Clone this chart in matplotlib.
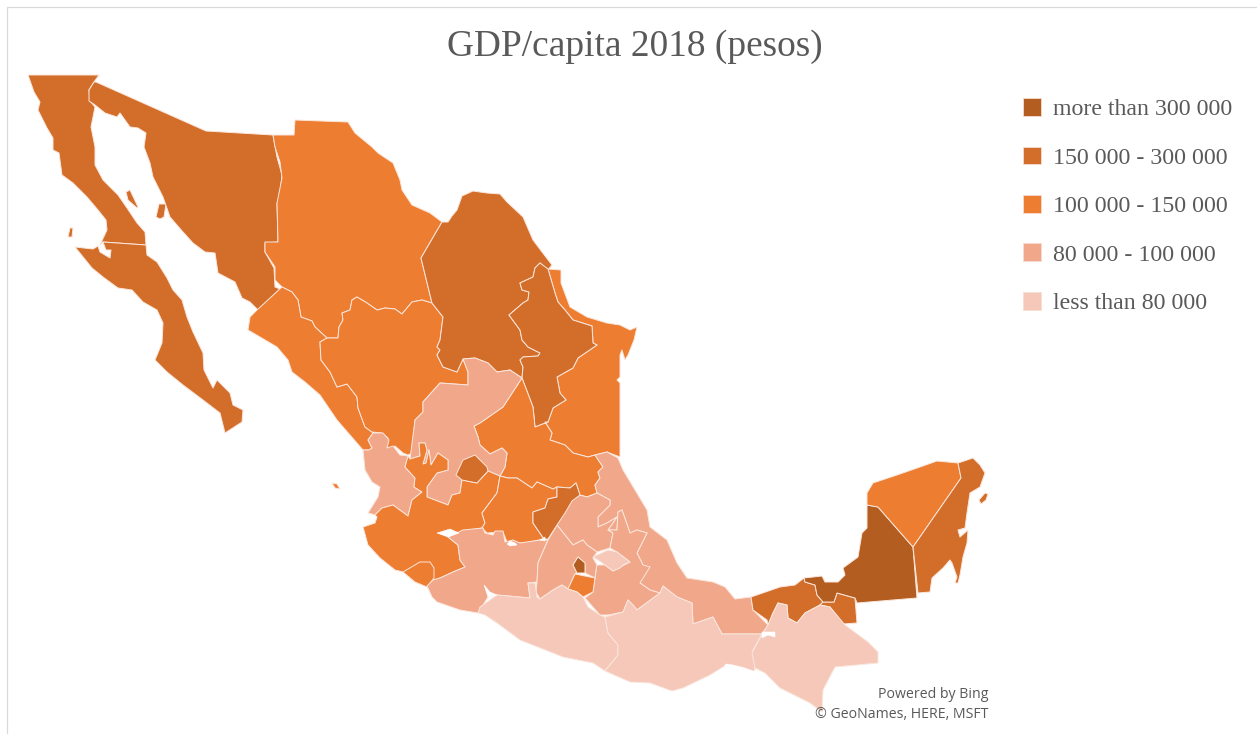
import matplotlib
matplotlib.use("Agg")
import matplotlib.pyplot as plt
from matplotlib.patches import Patch

TITLE = "GDP/capita 2018 (pesos)"
BIN_LABELS = ["more than 300 000", "150 000 - 300 000", "100 000 - 150 000",
              "80 000 - 100 000", "less than 80 000"]
BIN_COLORS = ["#B35D21", "#D36E2A", "#ED7D31", "#F1A78A", "#F5C8BA"]
ATTRIBUTION = ["Powered by Bing", "\u00a9 GeoNames, HERE, MSFT"]

# State outlines in map units (x grows east, y grows south)
baja_california = [(28,75),(99,75),(94,82),(89,90),(90,101),(95,107),(91,127),(95,147),(95,165),(103,180),(118,195),(127,208),(137,223),(145,232),(146,245),(103,242),(100,245),(107,230),(106,220),(98,210),(87,197),(73,183),(62,175),(59,153),(53,150),(53,138),(47,128),(38,110),(40,102),(34,92)]
baja_california_sur = [(103,242),(146,245),(147,255),(157,262),(167,278),(173,290),(182,300),(187,317),(193,332),(203,353),(204,370),(213,388),(217,380),(230,393),(233,405),(243,410),(242,422),(225,433),(220,413),(203,400),(183,385),(167,372),(155,360),(162,343),(163,323),(157,310),(143,302),(132,290),(118,288),(103,277),(92,268),(75,247),(93,249),(98,246),(100,252),(110,258),(111,250),(106,250)]
isla_angel = [(126,192),(130,190),(138,207),(137,208),(128,200)]
isla_tiburon = [(156,217),(159,204),(166,204),(164,217),(160,219)]
isla_cedros = [(68,237),(70,228),(73,228),(72,237)]
sonora = [(96,82),(206,131),(273,135),(277,157),(282,175),(279,203),(277,203),(278,242),(265,243),(265,252),(274,268),(275,287),(280,289),(258,310),(250,302),(242,298),(235,282),(218,273),(215,253),(205,252),(193,243),(183,232),(170,217),(163,197),(153,177),(150,163),(144,147),(146,133),(138,128),(130,127),(120,113),(117,117),(105,113),(95,105),(89,101),(89,90),(94,82)]
chihuahua = [(273,135),(294,135),(295,120),(348,122),(355,133),(372,147),(378,153),(393,163),(400,180),(402,190),(412,205),(430,213),(442,222),(421,258),(432,303),(422,300),(412,302),(402,314),(395,309),(385,308),(377,310),(367,303),(357,297),(352,300),(350,310),(342,313),(343,320),(339,327),(338,338),(327,338),(315,327),(312,321),(301,317),(298,300),(292,292),(282,287),(275,280),(275,267),(265,252),(265,242),(278,242),(277,203),(282,178),(280,162),(275,147)]
sinaloa = [(282,287),(292,292),(298,300),(301,317),(312,321),(315,327),(327,338),(320,342),(321,360),(330,372),(337,387),(347,384),(357,397),(358,408),(365,427),(372,432),(373,433),(368,440),(372,448),(369,450),(363,450),(350,435),(337,420),(320,395),(305,382),(292,372),(288,360),(277,347),(260,337),(248,330),(250,317),(257,310)]
islas_marias = [(332,483),(337,484),(340,489),(335,488)]
durango = [(327,338),(338,338),(339,327),(343,320),(342,313),(350,310),(352,300),(357,297),(367,303),(377,310),(385,308),(395,309),(402,314),(412,302),(422,300),(432,303),(443,317),(440,340),(437,347),(440,350),(437,355),(443,367),(457,372),(463,359),(468,372),(468,385),(440,383),(423,402),(423,412),(415,420),(412,453),(408,455),(403,453),(395,446),(387,450),(388,438),(382,433),(372,432),(365,427),(358,408),(357,397),(347,384),(337,387),(330,372),(321,360),(320,342)]
coahuila = [(442,222),(448,222),(452,216),(457,210),(462,196),(473,191),(487,193),(500,194),(507,202),(523,217),(533,240),(542,252),(552,265),(548,270),(540,263),(535,268),(533,277),(520,283),(522,290),(529,292),(528,300),(523,303),(509,315),(520,330),(522,340),(528,347),(540,353),(538,356),(523,357),(520,360),(523,367),(522,378),(510,370),(497,372),(488,363),(475,358),(463,359),(457,372),(443,367),(437,355),(440,350),(437,347),(440,340),(443,317),(432,303),(421,258)]
nuevo_leon = [(540,263),(548,269),(555,293),(558,302),(565,310),(573,320),(592,326),(593,343),(597,345),(578,358),(573,368),(557,377),(560,393),(566,400),(553,408),(548,422),(535,427),(533,407),(522,378),(523,367),(520,360),(523,357),(538,356),(540,353),(528,347),(522,340),(520,330),(509,315),(523,303),(528,300),(529,292),(522,290),(520,283),(533,277),(535,268)]
tamaulipas = [(548,269),(561,270),(561,283),(570,307),(587,317),(607,323),(620,325),(630,330),(637,327),(634,340),(628,355),(625,360),(622,350),(620,355),(620,377),(617,380),(620,383),(620,457),(607,452),(595,455),(588,457),(573,453),(565,445),(550,440),(552,433),(545,422),(548,422),(553,408),(566,400),(560,393),(557,377),(573,368),(578,358),(597,345),(593,343),(592,326),(573,320),(565,310),(558,302),(555,293)]
zacatecas = [(463,359),(475,358),(488,363),(497,372),(510,370),(522,378),(503,407),(480,423),(474,426),(478,437),(480,445),(490,454),(502,448),(507,453),(505,467),(500,476),(488,471),(477,483),(462,480),(460,493),(452,495),(448,505),(427,497),(427,487),(437,473),(448,470),(448,460),(438,453),(431,465),(429,450),(426,463),(423,464),(427,450),(425,443),(419,443),(420,456),(410,459),(415,420),(423,412),(423,402),(440,383),(468,385),(468,372)]
aguascalientes = [(475,455),(487,467),(488,471),(477,483),(462,480),(456,475),(463,460)]
nayarit = [(363,450),(369,450),(372,448),(368,440),(373,433),(383,433),(389,440),(387,448),(393,446),(400,455),(408,456),(405,467),(415,478),(414,487),(422,492),(412,500),(408,516),(393,505),(382,508),(375,515),(368,513),(378,497),(380,487),(372,482),(365,470)]
jalisco = [(375,515),(382,508),(393,505),(408,516),(412,500),(422,492),(414,487),(415,478),(405,467),(408,456),(410,459),(420,456),(419,443),(425,443),(427,450),(423,464),(426,463),(429,450),(431,465),(438,453),(448,460),(448,470),(437,473),(427,487),(427,497),(448,505),(452,495),(460,493),(462,480),(477,483),(488,471),(500,476),(497,493),(482,513),(485,523),(482,528),(470,530),(460,533),(448,537),(458,545),(460,560),(465,567),(453,572),(440,578),(434,580),(427,587),(415,582),(403,572),(395,570),(380,558),(368,545),(363,527),(375,523),(377,517)]
colima = [(403,572),(420,562),(430,562),(434,568),(434,578),(427,587),(415,582)]
guanajuato = [(500,476),(508,478),(517,478),(532,488),(537,482),(553,489),(557,487),(557,497),(548,499),(545,508),(533,512),(533,523),(544,539),(525,543),(515,543),(507,542),(503,532),(487,533),(482,528),(485,523),(482,513),(497,493)]
san_luis_potosi = [(522,378),(533,407),(535,427),(548,422),(545,422),(552,433),(550,440),(565,445),(573,453),(588,457),(595,455),(603,467),(598,472),(600,478),(595,485),(597,493),(587,497),(580,495),(576,483),(570,488),(557,487),(553,489),(537,482),(532,488),(517,478),(508,478),(500,476),(505,467),(507,453),(502,448),(490,454),(480,445),(478,437),(474,426),(480,423),(503,407)]
queretaro = [(557,487),(570,488),(576,483),(580,495),(572,501),(565,513),(557,525),(548,539),(544,539),(533,523),(533,512),(545,508),(548,499),(557,497)]
veracruz = [(595,455),(607,452),(618,458),(623,470),(635,490),(647,510),(650,527),(667,540),(677,563),(687,578),(713,582),(725,587),(735,599),(751,597),(753,610),(768,625),(762,634),(722,634),(713,617),(693,624),(692,603),(677,597),(663,586),(660,593),(650,590),(640,583),(643,565),(637,553),(647,533),(637,530),(630,533),(622,510),(618,512),(617,530),(608,530),(617,517),(607,523),(598,527),(598,517),(610,505),(610,500),(597,493),(595,485),(600,478),(598,472),(603,467)]
hidalgo = [(570,501),(580,495),(587,497),(597,493),(610,500),(610,505),(598,517),(598,527),(607,523),(617,517),(608,530),(613,533),(610,548),(597,552),(587,545),(583,540),(573,545),(557,525)]
estado_de_mexico = [(548,540),(538,563),(537,582),(536,592),(540,599),(553,590),(562,585),(568,589),(575,574),(577,573),(573,565),(578,557),(585,563),(585,573),(595,578),(597,565),(593,558),(597,552),(587,545),(583,540),(573,545),(557,525)]
ciudad_de_mexico = [(573,565),(578,557),(585,563),(585,573),(577,573)]
morelos = [(575,574),(590,577),(595,578),(593,592),(583,597),(577,592),(568,589)]
tlaxcala = [(593,557),(608,550),(617,552),(630,562),(623,565),(620,568),(613,571),(605,565),(598,560)]
puebla = [(608,530),(617,530),(618,512),(622,510),(630,533),(637,530),(647,533),(637,553),(643,565),(650,567),(640,583),(650,590),(660,593),(637,610),(633,605),(628,600),(623,612),(608,615),(600,615),(585,598),(593,592),(595,578),(597,565),(605,565),(613,571),(630,562),(617,552),(610,548),(613,533)]
oaxaca = [(605,617),(623,612),(628,600),(633,605),(637,610),(660,593),(663,586),(677,597),(692,603),(693,624),(713,617),(722,634),(762,634),(753,650),(755,670),(753,671),(740,668),(730,667),(723,667),(710,675),(683,688),(672,691),(650,683),(630,682),(605,671),(618,655),(618,645),(608,633)]
guerrero = [(478,613),(480,607),(497,595),(530,598),(528,583),(535,583),(537,597),(540,599),(553,590),(562,585),(568,589),(577,592),(583,597),(588,607),(600,615),(605,617),(608,633),(618,645),(618,655),(605,671),(593,663),(563,657),(520,640),(497,623),(485,615)]
michoacan = [(427,586),(433,580),(440,578),(453,572),(465,567),(460,560),(458,545),(448,537),(463,530),(483,528),(485,533),(493,535),(495,531),(503,531),(505,542),(513,540),(520,543),(540,540),(548,540),(538,563),(537,582),(528,583),(530,598),(497,595),(488,597),(478,613),(460,610),(437,602),(432,597)]
tabasco = [(751,597),(780,587),(795,585),(804,578),(805,582),(815,585),(817,595),(823,602),(820,605),(805,613),(797,623),(788,618),(787,605),(778,603),(773,613),(768,625),(767,620),(753,610)]
chiapas = [(768,625),(773,613),(778,603),(787,605),(788,618),(797,623),(805,613),(820,605),(830,607),(845,625),(868,642),(878,652),(878,663),(835,667),(823,690),(822,712),(810,703),(780,688),(765,673),(755,668),(752,653),(760,638)]
campeche = [(867,505),(878,507),(913,547),(917,598),(857,603),(855,598),(837,593),(834,602),(823,602),(817,595),(815,585),(805,582),(804,578),(822,576),(825,582),(838,582),(845,575),(843,568),(858,557),(862,533),(867,528)]
campeche_south = [(837,593),(855,598),(857,623),(843,624),(830,607),(820,605),(823,602),(834,602)]
yucatan = [(867,493),(873,483),(897,475),(920,467),(937,461),(958,463),(961,478),(913,547),(878,507),(867,505)]
quintana_roo = [(958,463),(973,458),(980,465),(985,473),(980,487),(970,493),(967,513),(965,528),(958,530),(960,537),(968,530),(967,543),(963,557),(960,575),(958,583),(955,583),(957,577),(952,563),(950,560),(943,568),(932,578),(930,592),(918,593),(913,547),(961,478)]
cozumel = [(979,500),(985,493),(988,494),(986,500),(981,504)]

# Water bodies cut out of the land
lake_chapala = [(437,533),(450,529),(459,533),(448,537)]
lake_solis = [(507,544),(510,541),(515,543),(517,545),(510,546)]
lake_cuitzeo = [(540,540),(545,537),(545,541)]
lake_balsas = [(484,585),(490,592),(497,595),(488,597)]
lake_malpaso = [(762,632),(775,632),(775,637),(768,635),(762,638)]
gulf_of_tehuantepec = [(720,672),(726,664),(733,665),(745,668),(755,672),(735,670)]
WATER = [lake_chapala, lake_solis, lake_cuitzeo, lake_balsas, lake_malpaso, gulf_of_tehuantepec]

# (outline, index into BIN_COLORS), in drawing order
REGIONS = [
    (baja_california, 1), (baja_california_sur, 1), (isla_angel, 1), (isla_tiburon, 1),
    (isla_cedros, 1), (sonora, 1), (chihuahua, 2), (sinaloa, 2), (islas_marias, 2),
    (durango, 2), (coahuila, 1), (tamaulipas, 2), (nuevo_leon, 1), (san_luis_potosi, 2),
    (zacatecas, 3), (nayarit, 3), (jalisco, 2), (aguascalientes, 1), (colima, 2),
    (guanajuato, 2), (veracruz, 3), (hidalgo, 3), (michoacan, 3), (estado_de_mexico, 3),
    (puebla, 3), (queretaro, 1), (morelos, 2), (ciudad_de_mexico, 0), (tlaxcala, 4),
    (guerrero, 4), (oaxaca, 4), (tabasco, 1), (campeche_south, 1), (chiapas, 4),
    (campeche, 0), (yucatan, 2), (quintana_roo, 1), (cozumel, 1),
]

plt.rcParams["font.family"] = ["Liberation Serif", "DejaVu Serif"]
fig = plt.figure(figsize=(12.57, 7.34), dpi=100, facecolor="white")
ax = fig.add_axes([0, 0, 1, 1])
ax.set_xlim(0, 1257)
ax.set_ylim(734, 0)
ax.axis("off")

for outline, bin_index in REGIONS:
    xs, ys = zip(*outline)
    ax.fill(xs, ys, facecolor=BIN_COLORS[bin_index], edgecolor="#FBE6DC",
            linewidth=0.7, joinstyle="round")
for outline in WATER:
    xs, ys = zip(*outline)
    ax.fill(xs, ys, facecolor="white", edgecolor="white", linewidth=0.4)

# Thin frame along the top and left of the chart area
ax.plot([7, 7, 1257], [734, 7, 7], color="#D9D9D9", linewidth=0.9)

ax.text(635, 47, TITLE, ha="center", va="center", fontsize=26.9, color="#595959")

handles = [Patch(facecolor=c, edgecolor="#F8DCCF", linewidth=0.6) for c in BIN_COLORS]
ax.legend(handles, BIN_LABELS, loc="upper left", bbox_to_anchor=(1016 / 1257, 1 - 91 / 734),
          frameon=False, fontsize=17.2, labelcolor="#595959", handlelength=0.76,
          handleheight=0.76, handletextpad=0.5, labelspacing=1.1, borderpad=0.3,
          borderaxespad=0)

attribution_font = dict(ha="right", va="center", fontsize=10.2, color="#595959",
                        family="Open Sans")
ax.text(988, 695, ATTRIBUTION[0], **attribution_font)
ax.text(988, 714, ATTRIBUTION[1], **attribution_font)

fig.savefig("out.png", dpi=100)
